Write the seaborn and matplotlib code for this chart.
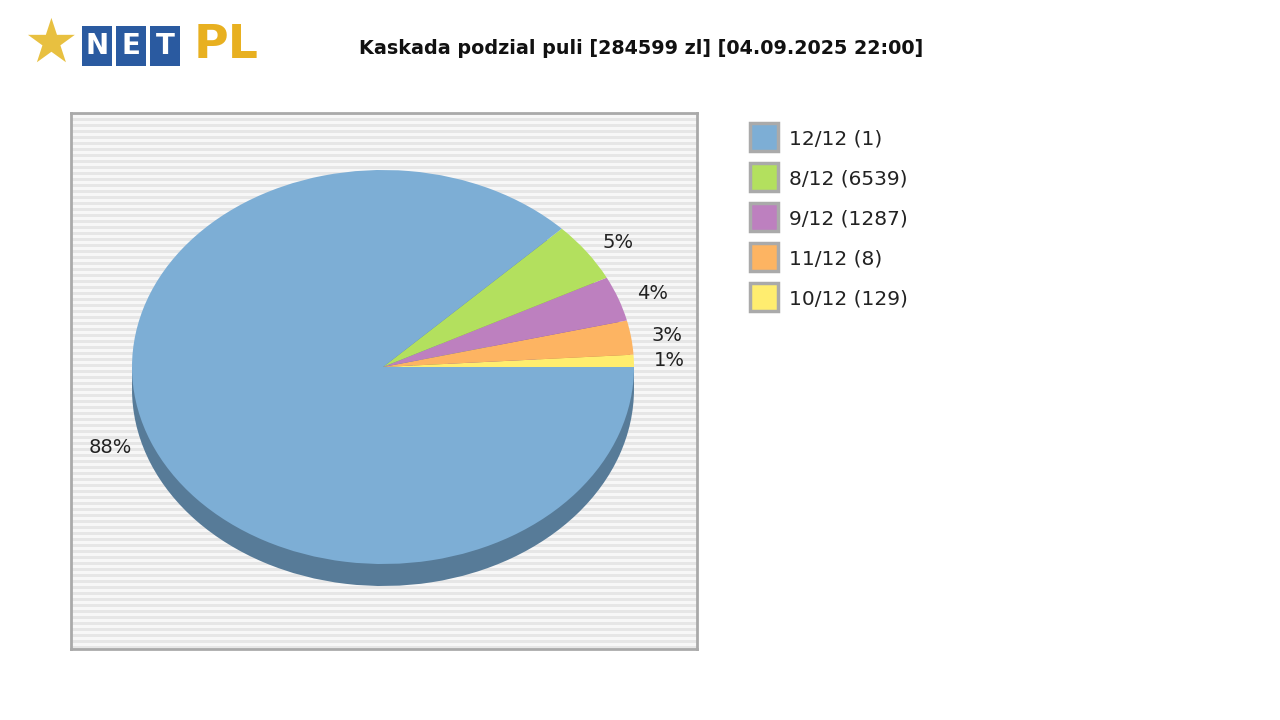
import matplotlib
matplotlib.use("Agg")
import matplotlib.pyplot as plt
import seaborn as sns
from matplotlib.patches import Rectangle

sns.set_style("white")
plt.rcParams['font.family'] = ['DejaVu Sans']

categories = ["12/12 (1)", "8/12 (6539)", "9/12 (1287)", "11/12 (8)", "10/12 (129)"]
shares = [87.7, 4.9, 3.7, 2.8, 1.0]
pct_labels = ["88%", "5%", "4%", "3%", "1%"]
colors = ["#7daed5", "#b3e05e", "#bd80bf", "#fdb462", "#ffed6f"]
dark = ["#577b98", "#7f9f42", "#865b88", "#b38046", "#b5a84f"]
title = "Kaskada podzial puli [284599 zl] [04.09.2025 22:00]"

fig = plt.figure(figsize=(12.8, 7.2), dpi=100)

bg = fig.add_axes([71/1280, (720-649)/720, 626/1280, 536/720])
bg.set_xlim(0, 1); bg.set_ylim(0, 536)
for y in range(0, 536, 6):
    bg.axhspan(y, y+3, color="#e6e6e6", lw=0)
bg.set_facecolor("#f7f7f7")
bg.set_xticks([]); bg.set_yticks([])
for s in bg.spines.values():
    s.set_color("#aaaaaa"); s.set_linewidth(2)

order = [4, 3, 2, 1, 0]
vals = [shares[i] for i in order]
cols = [colors[i] for i in order]
dcols = [dark[i] for i in order]
labs = [pct_labels[i] for i in order]

ax = fig.add_axes([132/1280, (720-564)/720, 502/1280, 394/720])
depth = 22/197
w2, _ = ax.pie(vals, colors=dcols, startangle=0, counterclock=True, center=(0, -depth),
               radius=1, frame=False, wedgeprops=dict(linewidth=0))
for w in w2: w.set_clip_on(False)
ax.add_patch(Rectangle((-1, -depth), 2, depth, color=dark[0], lw=0))
w1, t1 = ax.pie(vals, colors=cols, startangle=0, counterclock=True, labels=labs,
                labeldistance=1.08, radius=1, frame=False, wedgeprops=dict(linewidth=0),
                textprops=dict(fontsize=14, color="#222222"))
for t in t1: t.set_clip_on(False)
for w in w1: w.set_clip_on(False)
ax.set_xlim(-1, 1); ax.set_ylim(-1, 1); ax.set_aspect('auto'); ax.axis('off')

for i, cat in enumerate(categories):
    y = 137 + 40*i
    fig.patches.append(Rectangle((750/1280, (720-y-14)/720), 28/1280, 28/720,
                                 transform=fig.transFigure, facecolor=colors[i],
                                 edgecolor="#aaaaaa", lw=2.5))
    fig.text(789/1280, (720-y-2)/720, cat, fontsize=14.5, va="center", color="#222222")

fig.text(641/1280, (720-48)/720, title, fontsize=13.8, fontweight="bold", ha="center",
         va="center", color="#111111")

fig.text(50/1280, (720-45)/720, "★", fontsize=44, color="#e8c040", ha="center", va="center")
for i, ch in enumerate("NET"):
    x0 = 82 + i*34
    fig.patches.append(Rectangle((x0/1280, (720-66)/720), 30/1280, 40/720,
                                 transform=fig.transFigure, facecolor="#2a5aa0", lw=0))
    fig.text((x0+15)/1280, (720-46)/720, ch, fontsize=20, fontweight="bold", color="white",
             ha="center", va="center")
fig.text(226/1280, (720-45)/720, "PL", fontsize=34, fontweight="bold", color="#e8b020",
         ha="center", va="center")

fig.savefig("out.png", dpi=100)
